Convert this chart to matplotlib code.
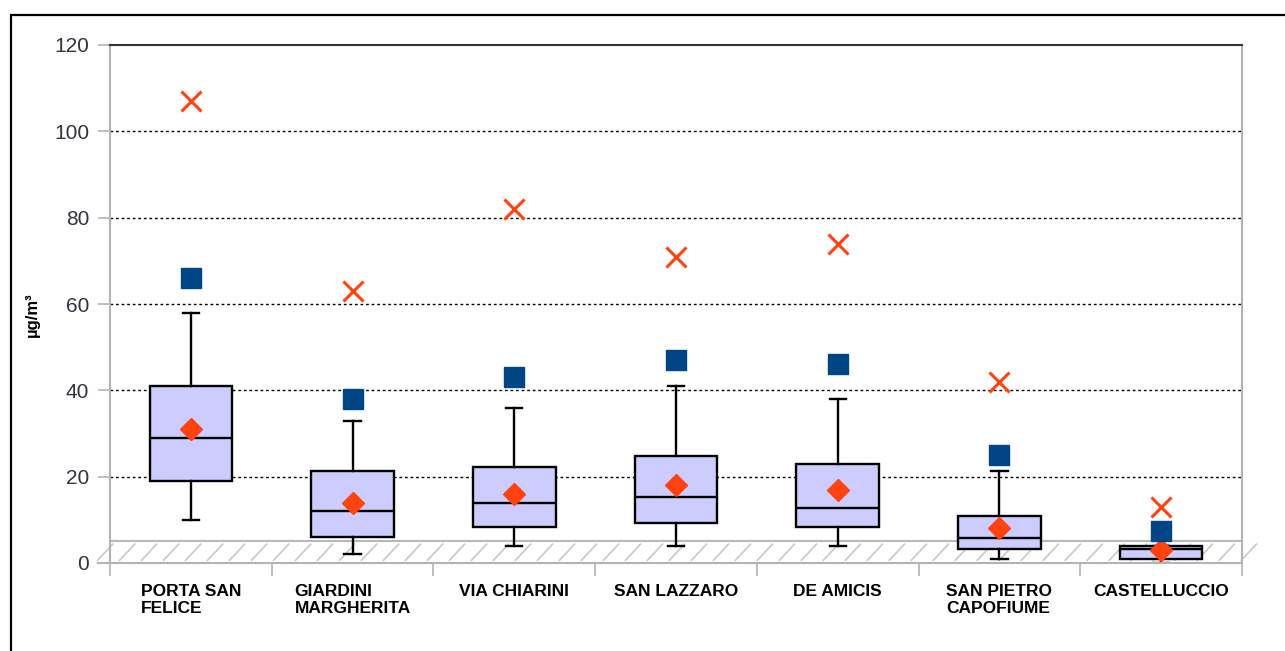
import matplotlib
matplotlib.use("Agg")
import numpy as np
import matplotlib.pyplot as plt
from matplotlib.patches import Rectangle
from matplotlib.collections import LineCollection

# stazioni e statistiche (µg/m³)
stations = ["PORTA SAN\nFELICE", "GIARDINI\nMARGHERITA", "VIA CHIARINI",
            "SAN LAZZARO", "DE AMICIS", "SAN PIETRO\nCAPOFIUME", "CASTELLUCCIO"]
whisk_lo = [10, 2, 4, 4, 4, 0.9, 0]
q1 = [19, 6, 8.3, 9.2, 8.3, 3.2, 0.9]
median = [29, 12, 13.8, 15.2, 12.8, 5.9, 3.2]
q3 = [41, 21.2, 22.2, 24.9, 23, 11, 4]
whisk_hi = [58, 33, 36, 41, 38, 21.2, 4]
mean = [31, 14, 16, 18, 17, 8, 2.9]
p98 = [66, 38, 43, 47, 46, 25, 7.3]
maximum = [107, 63, 82, 71, 74, 42, 13]
yticks = [0, 20, 40, 60, 80, 100, 120]

W, H = 1285, 651
fig = plt.figure(figsize=(W / 100, H / 100), dpi=100)
ax = fig.add_axes([110 / W, 1 - 563 / H, (1242 - 110) / W, (563 - 45) / H])

x = list(range(len(stations)))

# fascia tratteggiata 0-5 (linee oblique)
starts = np.arange(-0.58, 6.6, 0.136)
segs = [[(s, 0.5), (s + 0.1, 4.5)] for s in starts]
ax.add_collection(LineCollection(segs, colors="#c8c8c8", linewidths=1.2,
                                 clip_on=False, zorder=1))
ax.plot([-0.5, 6.5], [5, 5], color="#b8b8b8", lw=1.5, zorder=1.5)
ax.plot([-0.575, -0.5], [0, 0], color="#b3b3b3", lw=1.5, clip_on=False, zorder=1.5)

# griglia
for v in yticks[1:-1]:
    ax.axhline(v, color="black", lw=1.0, ls=(0, (2, 2)), zorder=0.5)

stats = []
for i in x:
    stats.append(dict(whislo=whisk_lo[i], q1=q1[i], med=median[i], q3=q3[i],
                      whishi=whisk_hi[i], fliers=[]))
ax.bxp(stats, positions=x, widths=0.51, showfliers=False, patch_artist=True,
       boxprops=dict(facecolor="#ccccff", edgecolor="black", lw=1.7),
       medianprops=dict(color="black", lw=1.7),
       whiskerprops=dict(color="black", lw=1.7),
       capprops=dict(color="black", lw=1.7),
       capwidths=0.1, zorder=2)

ax.plot(x, mean, ls="none", marker="D", ms=11, color="#ff420e", mec="#ff420e", zorder=4)
ax.plot(x, p98, ls="none", marker="s", ms=14, color="#004586", zorder=4)
ax.plot(x, maximum, ls="none", marker="x", ms=14, mew=2.2, color="#ff420e", zorder=4)

ax.set_xlim(-0.5, 6.5)
ax.set_ylim(0, 120)
ax.set_yticks(yticks)
ax.set_yticklabels([str(v) for v in yticks], fontsize=15, color="#333340",
                   family=["Liberation Sans", "DejaVu Sans"])
ax.tick_params(axis="y", length=9, width=1.2, color="#b3b3b3", pad=6)

ax.set_xticks(x)
ax.set_xticklabels(stations, fontsize=12.5, fontweight="bold", linespacing=1.2,
                   family=["Liberation Sans Narrow", "Liberation Sans", "DejaVu Sans"],
                   ma="left", va="top")
ax.tick_params(axis="x", which="major", length=0, pad=15)
ax.set_xticks([i - 0.5 for i in range(len(stations) + 1)], minor=True)
ax.tick_params(axis="x", which="minor", length=9, width=1.2, color="#b3b3b3")

for side in ("left", "right", "bottom"):
    ax.spines[side].set_color("#b3b3b3")
    ax.spines[side].set_linewidth(1.5)
ax.spines["top"].set_color("#333333")
ax.spines["top"].set_linewidth(1.5)

ax.set_ylabel("µg/m³", fontsize=12, fontweight="bold",
              family=["Liberation Sans", "DejaVu Sans"])
ax.yaxis.set_label_coords(-0.062, 0.48)

# cornice esterna
fig.add_artist(Rectangle((10.5 / W, -0.1), 1.2, 1.1 - 14.5 / H,
                         transform=fig.transFigure, fill=False, ec="black", lw=1.6))

fig.savefig("out.png", dpi=100)
